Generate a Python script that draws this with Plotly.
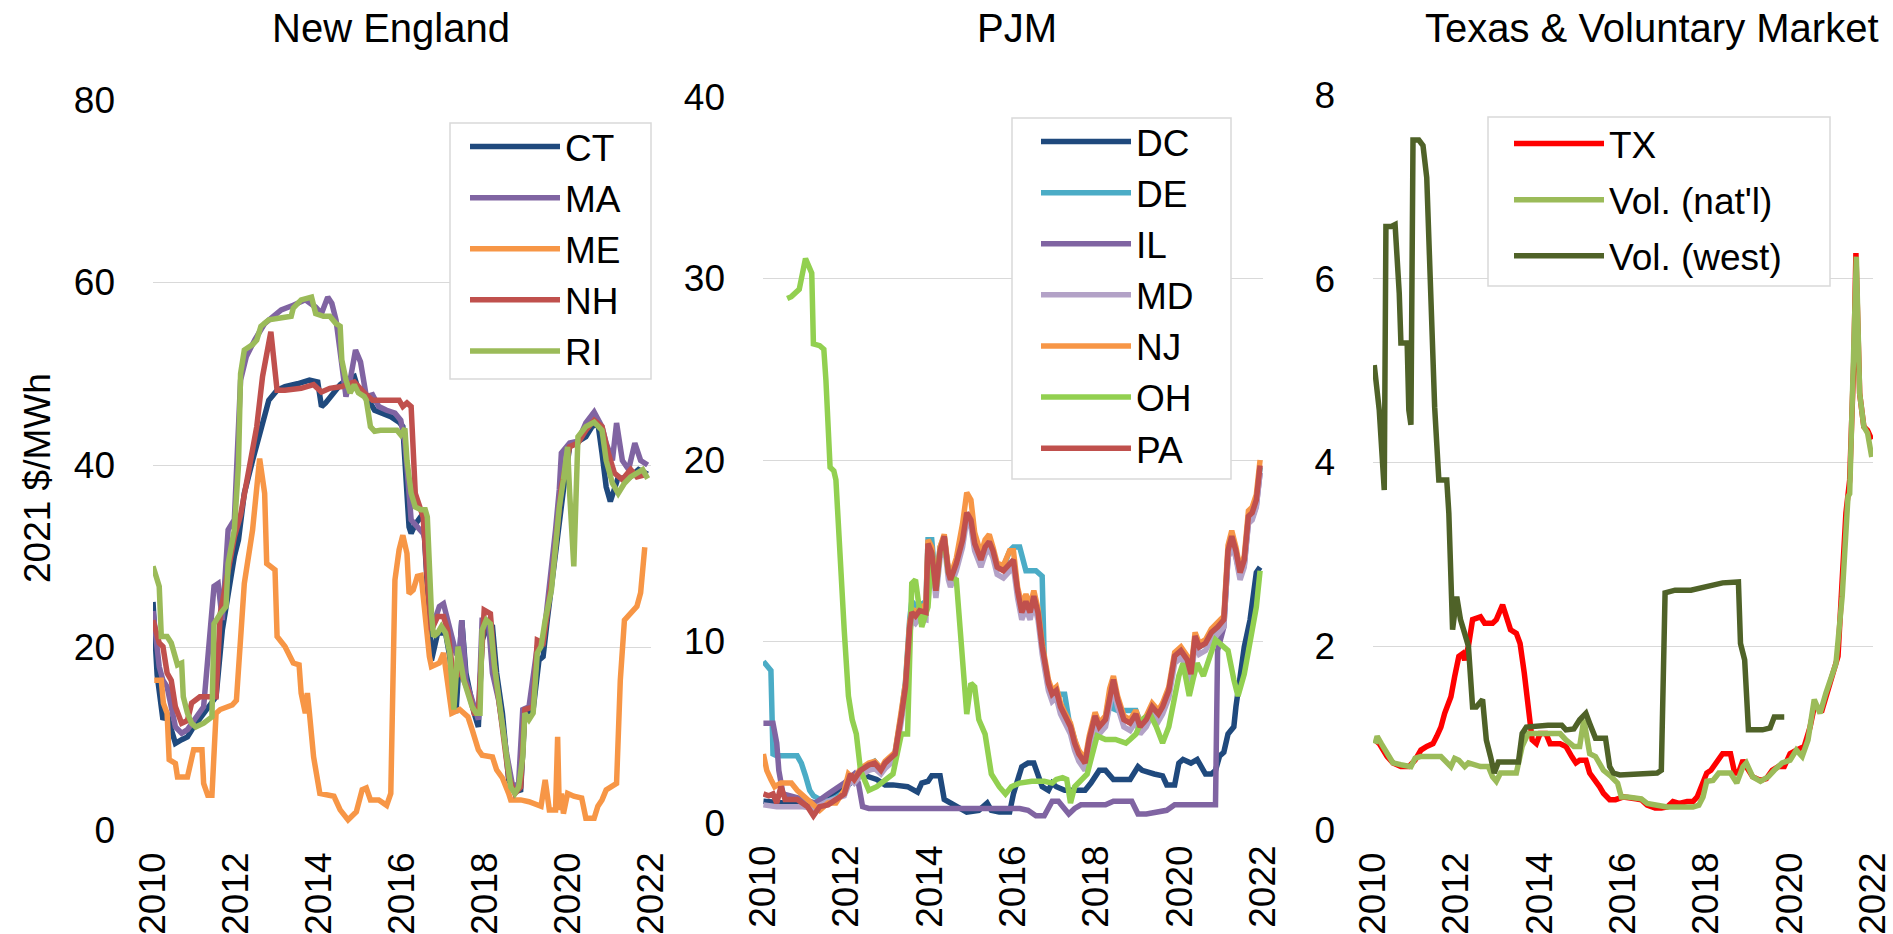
import plotly.graph_objects as go

# ---------------- data (decimal year, 2021 $/MWh) ----------------
YEAR_TICKS = [2010, 2012, 2014, 2016, 2018, 2020, 2022]
YEAR_LABELS = ["2010", "2012", "2014", "2016", "2018", "2020", "2022"]
PANEL_TITLES = ["New England", "PJM", "Texas & Voluntary Market"]
Y_TITLE = "2021 $/MWh"

NE_CT = [(2010.00, 25.0), (2010.10, 17.0), (2010.24, 12.1), (2010.34, 12.8), (2010.44, 11.0), (2010.54, 9.5),
         (2010.69, 9.9), (2010.83, 10.2), (2010.98, 11.3), (2011.22, 12.8), (2011.52, 14.6), (2011.67, 21.9),
         (2011.76, 24.5), (2011.96, 30.0), (2012.06, 31.8), (2012.20, 36.9), (2012.40, 40.5), (2012.60, 44.2),
         (2012.79, 47.1), (2012.99, 48.2), (2013.18, 48.6), (2013.48, 48.9), (2013.77, 49.3), (2013.97, 49.1),
         (2014.06, 46.4), (2014.16, 46.8), (2014.36, 47.9), (2014.51, 48.8), (2014.65, 49.3), (2014.85, 49.7),
         (2014.95, 48.2), (2015.14, 47.5), (2015.34, 46.0), (2015.53, 45.7), (2015.73, 45.3), (2015.93, 44.7),
         (2016.02, 44.2), (2016.07, 40.5), (2016.12, 37.3), (2016.17, 33.2), (2016.22, 32.5), (2016.32, 33.5),
         (2016.51, 34.7), (2016.61, 27.4), (2016.71, 18.6), (2016.86, 21.6), (2017.05, 21.6), (2017.15, 19.0),
         (2017.30, 12.8), (2017.44, 23.0), (2017.54, 17.2), (2017.74, 12.8), (2017.84, 11.3), (2017.93, 20.8),
         (2018.08, 22.6), (2018.18, 22.3), (2018.28, 17.2), (2018.42, 12.8), (2018.57, 5.5), (2018.72, 4.2),
         (2018.86, 4.4), (2018.96, 12.8), (2019.16, 13.2), (2019.30, 18.6), (2019.40, 19.0), (2019.50, 23.0),
         (2019.65, 28.5), (2019.79, 34.7), (2019.89, 37.3), (2020.04, 42.0), (2020.43, 43.1), (2020.58, 44.2),
         (2020.72, 44.6), (2020.82, 41.3), (2020.92, 37.6), (2021.02, 36.0), (2021.20, 38.5), (2021.50, 38.7),
         (2021.70, 39.5), (2021.92, 39.0)]

NE_MA = [(2010.00, 24.0), (2010.15, 17.9), (2010.24, 16.4), (2010.34, 15.7), (2010.54, 11.3), (2010.69, 10.6),
         (2010.83, 11.0), (2011.03, 12.4), (2011.22, 13.5), (2011.47, 26.7), (2011.57, 27.0), (2011.67, 23.0),
         (2011.81, 32.9), (2011.96, 34.0), (2012.11, 49.3), (2012.25, 51.9), (2012.45, 53.7), (2012.69, 55.5),
         (2012.89, 56.3), (2013.09, 57.0), (2013.38, 57.5), (2013.67, 58.1), (2013.92, 57.3), (2014.06, 56.6),
         (2014.21, 58.4), (2014.31, 57.7), (2014.41, 55.9), (2014.51, 52.2), (2014.65, 47.5), (2014.75, 49.3),
         (2014.88, 52.6), (2015.00, 51.3), (2015.14, 47.5), (2015.29, 47.7), (2015.44, 46.4), (2015.63, 46.0),
         (2015.83, 45.7), (2015.97, 44.9), (2016.07, 42.4), (2016.17, 36.9), (2016.22, 34.0), (2016.51, 32.5),
         (2016.61, 31.1), (2016.71, 21.9), (2016.90, 24.5), (2017.00, 24.8), (2017.15, 22.3), (2017.30, 19.4),
         (2017.39, 19.4), (2017.44, 23.0), (2017.54, 16.4), (2017.74, 13.5), (2017.84, 12.1), (2017.93, 23.0),
         (2018.08, 23.0), (2018.18, 17.2), (2018.33, 14.2), (2018.52, 8.4), (2018.67, 4.7), (2018.81, 5.1),
         (2018.91, 13.2), (2019.06, 13.5), (2019.26, 20.1), (2019.40, 20.5), (2019.55, 26.3), (2019.70, 32.9),
         (2019.79, 37.3), (2019.84, 41.3), (2020.04, 42.4), (2020.24, 42.6), (2020.43, 44.6), (2020.63, 45.8),
         (2020.82, 44.2), (2020.92, 42.4), (2021.07, 40.5), (2021.17, 44.6), (2021.31, 40.5), (2021.46, 39.5),
         (2021.61, 42.4), (2021.75, 40.5), (2021.92, 40.0)]

NE_ME = [(2010.03, 16.4), (2010.20, 16.4), (2010.25, 13.9), (2010.34, 12.8), (2010.39, 7.7), (2010.54, 7.3),
         (2010.59, 5.8), (2010.83, 5.8), (2010.98, 8.8), (2011.18, 8.8), (2011.22, 5.1), (2011.32, 3.8),
         (2011.42, 3.8), (2011.52, 12.8), (2011.62, 13.2), (2011.91, 13.7), (2012.01, 14.2), (2012.20, 27.0),
         (2012.40, 32.9), (2012.57, 40.7), (2012.69, 36.9), (2012.74, 29.2), (2012.94, 28.5), (2012.99, 21.2),
         (2013.18, 20.1), (2013.38, 18.3), (2013.52, 18.1), (2013.57, 15.0), (2013.67, 12.8), (2013.72, 15.0),
         (2013.77, 12.8), (2013.87, 8.0), (2014.02, 4.0), (2014.36, 3.7), (2014.51, 2.2), (2014.70, 1.1),
         (2014.90, 2.0), (2015.04, 4.4), (2015.14, 4.6), (2015.24, 3.3), (2015.44, 3.3), (2015.63, 2.7),
         (2015.73, 4.0), (2015.78, 16.4), (2015.83, 27.4), (2015.93, 30.7), (2016.02, 32.3), (2016.12, 30.3),
         (2016.17, 25.9), (2016.27, 26.3), (2016.37, 27.8), (2016.46, 27.9), (2016.51, 25.6), (2016.61, 20.1),
         (2016.66, 19.0), (2016.71, 17.9), (2016.90, 18.3), (2017.00, 19.4), (2017.20, 12.8), (2017.39, 13.2),
         (2017.59, 12.4), (2017.69, 11.0), (2017.84, 8.8), (2017.93, 8.2), (2018.18, 8.0), (2018.28, 6.6),
         (2018.42, 5.7), (2018.57, 4.0), (2018.62, 3.3), (2018.86, 3.3), (2019.06, 3.1), (2019.35, 2.6),
         (2019.45, 5.5), (2019.55, 2.2), (2019.70, 2.2), (2019.75, 10.2), (2019.79, 2.2), (2019.84, 4.0),
         (2019.89, 1.8), (2019.99, 4.0), (2020.14, 3.7), (2020.33, 3.5), (2020.43, 1.3), (2020.63, 1.3),
         (2020.72, 2.6), (2020.82, 3.3), (2020.92, 4.4), (2021.17, 5.1), (2021.26, 16.4), (2021.36, 23.0),
         (2021.51, 23.7), (2021.66, 24.5), (2021.75, 26.0), (2021.85, 31.0)]

NE_NH = [(2010.00, 23.0), (2010.15, 20.5), (2010.24, 20.1), (2010.34, 17.2), (2010.44, 16.4), (2010.54, 13.5),
         (2010.69, 11.7), (2010.83, 12.0), (2010.93, 13.9), (2011.13, 14.6), (2011.52, 14.6), (2011.62, 23.7),
         (2011.71, 25.9), (2011.81, 28.5), (2011.96, 32.1), (2012.11, 34.5), (2012.20, 36.9), (2012.35, 40.5),
         (2012.50, 44.2), (2012.64, 49.7), (2012.84, 54.6), (2012.99, 48.2), (2013.18, 48.2), (2013.57, 48.4),
         (2013.87, 48.8), (2014.06, 48.0), (2014.26, 48.4), (2014.55, 48.6), (2014.85, 49.1), (2015.09, 47.9),
         (2015.29, 47.1), (2015.93, 47.1), (2016.02, 46.4), (2016.12, 46.8), (2016.22, 46.4), (2016.32, 36.9),
         (2016.37, 36.2), (2016.51, 34.3), (2016.61, 27.4), (2016.71, 21.9), (2016.86, 23.4), (2017.00, 23.4),
         (2017.10, 21.9), (2017.25, 16.4), (2017.39, 17.5), (2017.59, 15.3), (2017.74, 12.8), (2017.84, 12.8),
         (2017.98, 24.1), (2018.13, 23.7), (2018.23, 17.9), (2018.37, 13.2), (2018.57, 5.8), (2018.72, 4.0),
         (2018.86, 4.7), (2018.96, 13.2), (2019.16, 13.5), (2019.26, 20.8), (2019.40, 20.5), (2019.50, 23.7),
         (2019.65, 28.9), (2019.84, 37.6), (2020.04, 42.0), (2020.24, 42.4), (2020.43, 43.8), (2020.63, 44.9),
         (2020.82, 44.2), (2020.97, 41.3), (2021.12, 39.1), (2021.31, 38.4), (2021.51, 39.5), (2021.66, 38.7),
         (2021.92, 39.0)]

NE_RI = [(2010.00, 28.9), (2010.05, 28.0), (2010.15, 26.7), (2010.20, 21.2), (2010.34, 21.2), (2010.44, 20.5),
         (2010.54, 18.6), (2010.59, 18.1), (2010.69, 18.3), (2010.73, 14.6), (2010.83, 12.8), (2010.93, 11.7),
         (2011.03, 11.3), (2011.22, 11.7), (2011.42, 12.4), (2011.47, 22.6), (2011.62, 23.7), (2011.76, 24.5),
         (2011.81, 29.2), (2011.96, 32.9), (2012.06, 40.0), (2012.11, 50.0), (2012.20, 52.6), (2012.40, 53.2),
         (2012.50, 53.7), (2012.60, 55.2), (2012.79, 55.9), (2013.09, 56.1), (2013.33, 56.3), (2013.38, 57.2),
         (2013.57, 58.1), (2013.82, 58.4), (2013.92, 56.6), (2014.11, 56.3), (2014.26, 56.3), (2014.41, 55.5),
         (2014.51, 55.2), (2014.55, 51.5), (2014.65, 49.3), (2014.75, 47.9), (2014.85, 48.8), (2014.95, 47.9),
         (2015.09, 47.5), (2015.14, 47.1), (2015.24, 44.2), (2015.34, 43.7), (2015.48, 43.8), (2015.88, 43.8),
         (2015.97, 43.3), (2016.07, 44.0), (2016.12, 40.5), (2016.22, 36.9), (2016.32, 35.4), (2016.46, 35.1),
         (2016.56, 35.1), (2016.61, 34.3), (2016.66, 27.4), (2016.71, 23.7), (2016.76, 21.2), (2016.86, 21.6),
         (2016.95, 22.3), (2017.05, 21.6), (2017.15, 19.4), (2017.25, 13.2), (2017.35, 20.1), (2017.49, 16.4),
         (2017.69, 13.5), (2017.79, 12.8), (2017.88, 12.8), (2017.93, 21.9), (2018.03, 23.0), (2018.13, 22.6),
         (2018.23, 17.9), (2018.37, 12.8), (2018.47, 9.9), (2018.57, 6.2), (2018.62, 4.7), (2018.72, 4.0),
         (2018.81, 4.7), (2018.91, 8.0), (2018.96, 12.8), (2019.06, 12.1), (2019.16, 12.8), (2019.26, 19.4),
         (2019.35, 20.1), (2019.45, 23.0), (2019.60, 26.3), (2019.70, 31.1), (2019.79, 35.4), (2019.89, 38.4),
         (2019.99, 42.0), (2020.04, 36.9), (2020.14, 28.9), (2020.24, 43.1), (2020.43, 44.2), (2020.63, 44.7),
         (2020.82, 43.8), (2020.92, 40.5), (2021.07, 38.0), (2021.21, 36.9), (2021.36, 38.0), (2021.51, 38.7),
         (2021.66, 39.1), (2021.80, 39.5), (2021.92, 38.5)]

PJM_DC = [(2010.01, 1.2), (2010.50, 1.1), (2011.00, 1.0), (2011.50, 1.2), (2012.00, 2.0), (2012.34, 2.7),
          (2012.73, 2.4), (2012.93, 2.1), (2013.12, 2.1), (2013.47, 2.0), (2013.57, 1.9), (2013.71, 1.7),
          (2013.81, 2.2), (2013.96, 2.3), (2014.05, 2.6), (2014.25, 2.6), (2014.35, 1.3), (2014.50, 1.1),
          (2014.79, 0.7), (2014.89, 0.6), (2015.18, 0.7), (2015.38, 1.1), (2015.48, 0.7), (2015.67, 0.6),
          (2015.92, 0.6), (2016.01, 1.6), (2016.21, 3.1), (2016.36, 3.3), (2016.50, 3.3), (2016.60, 2.6),
          (2016.70, 2.0), (2016.85, 1.8), (2016.94, 2.2), (2017.04, 2.0), (2017.24, 1.8), (2017.73, 1.8),
          (2017.87, 2.2), (2018.07, 2.9), (2018.22, 2.9), (2018.41, 2.4), (2018.81, 2.4), (2019.00, 3.1),
          (2019.10, 2.9), (2019.39, 2.7), (2019.59, 2.6), (2019.69, 2.1), (2019.88, 2.1), (2019.98, 3.3),
          (2020.08, 3.5), (2020.27, 3.3), (2020.42, 3.5), (2020.62, 2.7), (2020.76, 2.7), (2020.86, 2.9),
          (2020.96, 3.7), (2021.06, 3.9), (2021.16, 4.9), (2021.30, 5.3), (2021.35, 6.4), (2021.55, 9.7),
          (2021.69, 11.2), (2021.84, 13.8), (2021.93, 14.1)]

PJM_DE = [(2010.01, 8.9), (2010.14, 8.5), (2010.19, 8.4), (2010.24, 3.8), (2010.33, 3.7), (2010.82, 3.7),
          (2010.92, 3.3), (2011.02, 2.6), (2011.12, 1.8), (2011.21, 1.5), (2011.36, 1.3), (2011.56, 1.2),
          (2011.75, 1.4), (2011.95, 1.7), (2012.05, 2.3), (2012.19, 2.4), (2012.34, 2.9), (2012.54, 3.2),
          (2012.68, 3.4), (2012.83, 3.0), (2012.93, 3.3), (2013.17, 3.9), (2013.32, 6.0), (2013.42, 7.8),
          (2013.52, 11.2), (2013.57, 12.2), (2013.66, 12.0), (2013.76, 12.0), (2013.91, 12.2), (2013.96, 15.6),
          (2014.05, 15.6), (2014.15, 13.0), (2014.25, 15.2), (2014.35, 15.8), (2014.45, 13.8), (2014.50, 13.4),
          (2014.64, 14.3), (2014.79, 15.6), (2014.89, 17.0), (2014.99, 16.6), (2015.08, 15.4), (2015.23, 14.5),
          (2015.33, 15.2), (2015.43, 15.5), (2015.52, 15.0), (2015.62, 14.2), (2015.77, 14.1), (2015.92, 15.0),
          (2016.01, 15.2), (2016.16, 15.2), (2016.31, 13.9), (2016.55, 13.9), (2016.70, 13.6), (2016.75, 9.0),
          (2016.85, 7.5), (2016.94, 7.2), (2017.04, 7.1), (2017.24, 7.1), (2017.34, 5.7), (2017.48, 4.6),
          (2017.58, 3.8), (2017.73, 3.3), (2017.83, 4.6), (2017.97, 5.9), (2018.07, 5.5), (2018.22, 5.8),
          (2018.32, 7.1), (2018.41, 6.3), (2018.51, 6.2), (2018.81, 6.2), (2018.95, 6.2), (2019.05, 5.6),
          (2019.20, 5.8), (2019.34, 6.4), (2019.49, 6.0), (2019.59, 6.4), (2019.74, 7.3), (2019.88, 9.2),
          (2020.03, 9.5), (2020.18, 9.0), (2020.27, 8.3), (2020.37, 10.2), (2020.47, 9.7), (2020.62, 9.9),
          (2020.76, 10.4), (2020.91, 10.7), (2021.06, 11.1), (2021.16, 14.8), (2021.25, 15.6), (2021.35, 14.9),
          (2021.45, 13.8), (2021.55, 14.4), (2021.65, 16.8), (2021.74, 17.0), (2021.84, 17.7), (2021.93, 19.6)]

PJM_IL = [(2010.01, 5.5), (2010.24, 5.5), (2010.33, 4.4), (2010.38, 2.9), (2010.48, 1.6), (2010.68, 1.5),
          (2010.97, 1.3), (2011.26, 1.1), (2011.36, 1.3), (2011.56, 1.6), (2011.95, 2.2), (2012.19, 2.7),
          (2012.29, 2.2), (2012.39, 0.9), (2012.54, 0.8), (2016.16, 0.8), (2016.36, 0.7), (2016.55, 0.4),
          (2016.75, 0.4), (2016.85, 0.8), (2016.94, 1.2), (2017.09, 1.2), (2017.24, 0.8), (2017.34, 0.5),
          (2017.48, 0.8), (2017.63, 1.0), (2018.22, 1.0), (2018.41, 1.2), (2018.85, 1.2), (2019.00, 0.5),
          (2019.20, 0.5), (2019.39, 0.6), (2019.69, 0.7), (2019.88, 1.0), (2020.86, 1.0), (2020.91, 9.5),
          (2021.06, 10.8), (2021.16, 14.6), (2021.25, 15.4), (2021.35, 14.7), (2021.45, 13.6), (2021.55, 14.2),
          (2021.65, 16.6), (2021.74, 16.8), (2021.84, 17.5), (2021.93, 19.3)]

PJM_MD = [(2010.01, 1.0), (2010.33, 0.9), (2010.97, 0.9), (2011.21, 0.8), (2011.56, 1.2), (2011.95, 1.5),
          (2012.10, 2.4), (2012.19, 2.2), (2012.34, 2.6), (2012.54, 2.9), (2012.68, 3.0), (2012.83, 2.7),
          (2012.93, 3.0), (2013.17, 3.5), (2013.32, 5.6), (2013.42, 7.2), (2013.52, 10.4), (2013.57, 11.2),
          (2013.66, 11.0), (2013.76, 11.3), (2013.91, 11.2), (2013.96, 15.0), (2014.05, 14.5), (2014.15, 12.4),
          (2014.25, 14.6), (2014.35, 15.4), (2014.45, 13.4), (2014.50, 13.0), (2014.64, 13.9), (2014.79, 15.2),
          (2014.89, 16.7), (2014.99, 16.3), (2015.08, 15.0), (2015.23, 14.1), (2015.33, 14.8), (2015.43, 15.1),
          (2015.52, 14.6), (2015.62, 13.7), (2015.77, 13.5), (2015.92, 13.9), (2016.01, 14.1), (2016.11, 12.4),
          (2016.21, 11.2), (2016.31, 11.8), (2016.41, 11.2), (2016.50, 12.1), (2016.60, 11.2), (2016.70, 9.3),
          (2016.85, 7.3), (2016.94, 6.7), (2017.04, 6.9), (2017.14, 6.0), (2017.24, 5.5), (2017.38, 4.9),
          (2017.48, 4.0), (2017.58, 3.4), (2017.73, 2.9), (2017.83, 4.2), (2017.97, 5.5), (2018.07, 4.9),
          (2018.22, 5.3), (2018.32, 6.7), (2018.41, 7.5), (2018.51, 6.4), (2018.66, 5.3), (2018.81, 5.1),
          (2018.95, 5.6), (2019.05, 4.9), (2019.20, 5.3), (2019.34, 6.0), (2019.49, 5.6), (2019.59, 6.0),
          (2019.74, 6.9), (2019.88, 8.8), (2020.03, 9.1), (2020.18, 8.6), (2020.27, 7.8), (2020.37, 9.9),
          (2020.47, 9.3), (2020.62, 9.5), (2020.76, 10.1), (2020.91, 10.4), (2021.06, 10.8), (2021.16, 14.6),
          (2021.25, 15.4), (2021.35, 14.6), (2021.45, 13.4), (2021.55, 14.1), (2021.65, 16.5), (2021.74, 16.7),
          (2021.84, 17.4), (2021.93, 19.3)]

PJM_NJ = [(2010.01, 3.8), (2010.09, 2.9), (2010.19, 2.4), (2010.28, 2.0), (2010.43, 2.2), (2010.68, 2.2),
          (2010.82, 1.8), (2010.97, 1.5), (2011.17, 1.1), (2011.36, 0.7), (2011.56, 1.1), (2011.75, 1.1),
          (2011.95, 1.8), (2012.05, 2.7), (2012.19, 2.4), (2012.34, 3.0), (2012.54, 3.3), (2012.68, 3.4),
          (2012.83, 3.0), (2012.93, 3.4), (2013.17, 3.9), (2013.32, 6.1), (2013.42, 7.7), (2013.52, 11.0),
          (2013.57, 11.8), (2013.66, 11.6), (2013.76, 11.9), (2013.91, 12.0), (2013.96, 15.6), (2014.05, 15.2),
          (2014.15, 13.0), (2014.25, 15.2), (2014.35, 15.9), (2014.45, 14.0), (2014.50, 13.6), (2014.64, 14.6),
          (2014.79, 16.5), (2014.89, 18.2), (2014.99, 17.8), (2015.08, 16.0), (2015.23, 14.8), (2015.33, 15.6),
          (2015.43, 15.9), (2015.52, 15.2), (2015.62, 14.3), (2015.77, 14.2), (2015.92, 15.0), (2016.01, 15.0),
          (2016.11, 13.0), (2016.21, 12.0), (2016.31, 12.6), (2016.41, 12.0), (2016.50, 12.8), (2016.60, 11.8),
          (2016.70, 9.9), (2016.85, 7.9), (2016.94, 7.3), (2017.04, 7.5), (2017.14, 6.6), (2017.24, 6.1),
          (2017.38, 5.5), (2017.48, 4.6), (2017.58, 4.0), (2017.73, 3.5), (2017.83, 4.8), (2017.97, 6.1),
          (2018.07, 5.5), (2018.22, 5.9), (2018.32, 7.4), (2018.41, 8.1), (2018.51, 7.0), (2018.66, 5.9),
          (2018.81, 5.7), (2018.95, 6.2), (2019.05, 5.5), (2019.20, 5.9), (2019.34, 6.6), (2019.49, 6.2),
          (2019.59, 6.6), (2019.74, 7.5), (2019.88, 9.4), (2020.03, 9.7), (2020.18, 9.2), (2020.27, 8.4),
          (2020.37, 10.5), (2020.47, 9.9), (2020.62, 10.1), (2020.76, 10.7), (2020.91, 11.0), (2021.06, 11.4),
          (2021.16, 15.3), (2021.25, 16.1), (2021.35, 15.2), (2021.45, 14.0), (2021.55, 14.7), (2021.65, 17.2),
          (2021.74, 17.4), (2021.84, 18.1), (2021.93, 20.0)]

PJM_OH = [(2010.58, 28.9), (2010.68, 29.0), (2010.87, 29.4), (2010.97, 30.7), (2011.02, 31.1), (2011.17, 30.3),
          (2011.21, 26.4), (2011.36, 26.3), (2011.46, 26.1), (2011.51, 24.4), (2011.61, 19.6), (2011.70, 19.4),
          (2011.75, 18.9), (2011.95, 10.6), (2012.05, 7.0), (2012.14, 5.7), (2012.24, 4.9), (2012.34, 2.9),
          (2012.54, 1.8), (2012.73, 2.0), (2012.93, 2.4), (2013.12, 2.7), (2013.32, 4.9), (2013.47, 4.9),
          (2013.57, 13.2), (2013.66, 13.4), (2013.81, 10.8), (2013.96, 11.9), (2014.05, 14.9), (2014.15, 12.8),
          (2014.25, 15.0), (2014.35, 15.5), (2014.45, 13.8), (2014.54, 13.5), (2014.64, 13.4), (2014.79, 8.8),
          (2014.89, 6.0), (2014.99, 7.7), (2015.08, 7.5), (2015.18, 5.7), (2015.33, 4.9), (2015.48, 2.7),
          (2015.67, 2.0), (2015.82, 1.6), (2015.96, 2.0), (2016.16, 2.2), (2016.45, 2.3), (2016.75, 2.3),
          (2016.94, 2.2), (2017.04, 2.4), (2017.19, 2.5), (2017.29, 2.4), (2017.38, 1.1), (2017.48, 2.0),
          (2017.63, 2.4), (2017.78, 2.7), (2018.02, 4.8), (2018.22, 4.6), (2018.46, 4.6), (2018.71, 4.4),
          (2018.81, 4.6), (2018.95, 4.9), (2019.10, 5.7), (2019.29, 6.0), (2019.44, 5.3), (2019.59, 4.4),
          (2019.74, 5.3), (2019.84, 6.4), (2019.98, 8.1), (2020.08, 8.8), (2020.23, 7.0), (2020.32, 7.9),
          (2020.42, 8.8), (2020.57, 8.1), (2020.71, 9.0), (2020.86, 10.1), (2020.96, 9.9), (2021.16, 9.5),
          (2021.30, 7.9), (2021.40, 7.0), (2021.55, 8.2), (2021.69, 10.1), (2021.84, 11.9), (2021.93, 13.9)]

PJM_PA = [(2010.01, 1.6), (2010.14, 1.5), (2010.24, 1.6), (2010.33, 1.1), (2010.43, 2.0), (2010.53, 1.3),
          (2010.82, 1.3), (2010.97, 1.1), (2011.07, 0.9), (2011.21, 0.4), (2011.36, 0.9), (2011.56, 1.0),
          (2011.75, 1.3), (2011.95, 1.6), (2012.10, 2.7), (2012.19, 2.4), (2012.34, 2.9), (2012.54, 3.2),
          (2012.68, 3.3), (2012.83, 2.9), (2012.93, 3.3), (2013.17, 3.8), (2013.32, 5.9), (2013.42, 7.5),
          (2013.52, 10.8), (2013.57, 11.6), (2013.66, 11.4), (2013.76, 11.7), (2013.91, 11.6), (2013.96, 15.4),
          (2014.05, 14.9), (2014.15, 12.8), (2014.25, 15.0), (2014.35, 15.8), (2014.45, 13.8), (2014.50, 13.4),
          (2014.64, 14.3), (2014.79, 15.6), (2014.89, 17.1), (2014.99, 16.7), (2015.08, 15.4), (2015.23, 14.5),
          (2015.33, 15.2), (2015.43, 15.5), (2015.52, 15.0), (2015.62, 14.1), (2015.77, 13.9), (2015.92, 14.3),
          (2016.01, 14.5), (2016.11, 12.8), (2016.21, 11.6), (2016.31, 12.2), (2016.41, 11.6), (2016.50, 12.5),
          (2016.60, 11.6), (2016.70, 9.7), (2016.85, 7.7), (2016.94, 7.1), (2017.04, 7.3), (2017.14, 6.4),
          (2017.24, 5.9), (2017.38, 5.3), (2017.48, 4.4), (2017.58, 3.8), (2017.73, 3.3), (2017.83, 4.6),
          (2017.97, 5.9), (2018.07, 5.3), (2018.22, 5.7), (2018.32, 7.1), (2018.41, 7.9), (2018.51, 6.8),
          (2018.66, 5.7), (2018.81, 5.5), (2018.95, 6.0), (2019.05, 5.3), (2019.20, 5.7), (2019.34, 6.4),
          (2019.49, 6.0), (2019.59, 6.4), (2019.74, 7.3), (2019.88, 9.2), (2020.03, 9.5), (2020.18, 9.0),
          (2020.27, 8.2), (2020.37, 10.3), (2020.47, 9.7), (2020.62, 9.9), (2020.76, 10.5), (2020.91, 10.8),
          (2021.06, 11.2), (2021.16, 15.0), (2021.25, 15.8), (2021.35, 15.0), (2021.45, 13.8), (2021.55, 14.5),
          (2021.65, 16.9), (2021.74, 17.1), (2021.84, 17.8), (2021.93, 19.7)]

TX_TX = [(2010.05, 0.98), (2010.15, 0.94), (2010.34, 0.80), (2010.48, 0.73), (2010.67, 0.69), (2010.86, 0.69),
         (2011.01, 0.76), (2011.15, 0.87), (2011.29, 0.91), (2011.44, 0.94), (2011.53, 1.02), (2011.63, 1.12),
         (2011.72, 1.27), (2011.87, 1.45), (2011.96, 1.67), (2012.06, 1.89), (2012.15, 1.92), (2012.20, 1.85),
         (2012.29, 2.00), (2012.39, 2.29), (2012.58, 2.32), (2012.68, 2.25), (2012.87, 2.25), (2012.96, 2.29),
         (2013.11, 2.45), (2013.20, 2.32), (2013.30, 2.18), (2013.44, 2.14), (2013.53, 2.03), (2013.63, 1.71),
         (2013.72, 1.34), (2013.82, 0.98), (2013.92, 0.94), (2014.01, 1.05), (2014.15, 1.05), (2014.25, 0.94),
         (2014.49, 0.94), (2014.63, 0.91), (2014.77, 0.80), (2014.87, 0.73), (2014.96, 0.76), (2015.11, 0.76),
         (2015.20, 0.62), (2015.34, 0.54), (2015.44, 0.47), (2015.53, 0.40), (2015.68, 0.33), (2015.82, 0.33),
         (2016.01, 0.36), (2016.30, 0.34), (2016.44, 0.33), (2016.58, 0.27), (2016.77, 0.24), (2016.92, 0.24),
         (2017.06, 0.25), (2017.20, 0.31), (2017.35, 0.29), (2017.54, 0.31), (2017.68, 0.31), (2017.78, 0.36),
         (2017.92, 0.54), (2018.01, 0.62), (2018.11, 0.65), (2018.25, 0.73), (2018.39, 0.83), (2018.58, 0.83),
         (2018.68, 0.62), (2018.77, 0.62), (2018.88, 0.76), (2018.96, 0.69), (2019.11, 0.58), (2019.30, 0.54),
         (2019.44, 0.56), (2019.58, 0.65), (2019.73, 0.69), (2019.87, 0.69), (2020.01, 0.83), (2020.16, 0.87),
         (2020.35, 0.91), (2020.49, 1.12), (2020.59, 1.34), (2020.78, 1.31), (2020.87, 1.45), (2020.97, 1.60),
         (2021.06, 1.74), (2021.16, 1.89), (2021.26, 2.72), (2021.35, 3.45), (2021.44, 3.81), (2021.54, 5.12),
         (2021.59, 6.28), (2021.68, 4.75), (2021.78, 4.39), (2021.87, 4.35), (2021.97, 4.25)]

TX_VOL_NATL = [(2010.05, 0.94), (2010.10, 1.02), (2010.20, 0.94), (2010.29, 0.87), (2010.39, 0.80), (2010.48, 0.73),
               (2010.67, 0.71), (2010.91, 0.69), (2011.01, 0.78), (2011.15, 0.80), (2011.63, 0.80), (2011.72, 0.76),
               (2011.87, 0.69), (2011.96, 0.78), (2012.06, 0.76), (2012.20, 0.69), (2012.29, 0.73), (2012.58, 0.69),
               (2012.77, 0.69), (2012.87, 0.58), (2012.96, 0.53), (2013.06, 0.62), (2013.44, 0.62), (2013.58, 0.91),
               (2013.72, 1.05), (2014.49, 1.05), (2014.63, 0.98), (2014.82, 0.91), (2014.96, 0.91), (2015.06, 1.20),
               (2015.20, 0.83), (2015.34, 0.80), (2015.53, 0.65), (2015.72, 0.58), (2015.87, 0.51), (2015.96, 0.36),
               (2016.11, 0.36), (2016.44, 0.34), (2016.58, 0.29), (2016.82, 0.27), (2017.06, 0.25), (2017.44, 0.25),
               (2017.68, 0.25), (2017.82, 0.27), (2017.92, 0.36), (2018.01, 0.53), (2018.16, 0.54), (2018.30, 0.62),
               (2018.58, 0.62), (2018.73, 0.51), (2018.88, 0.69), (2018.96, 0.73), (2019.11, 0.58), (2019.30, 0.53),
               (2019.49, 0.58), (2019.63, 0.65), (2019.82, 0.73), (2020.01, 0.76), (2020.16, 0.87), (2020.30, 0.80),
               (2020.44, 0.98), (2020.59, 1.42), (2020.73, 1.27), (2020.87, 1.49), (2020.97, 1.63), (2021.11, 1.81),
               (2021.26, 2.54), (2021.40, 3.63), (2021.44, 3.66), (2021.52, 4.75), (2021.60, 6.24), (2021.68, 4.75),
               (2021.78, 4.39), (2021.87, 4.32), (2021.97, 4.06)]

TX_VOL_WEST = [(2010.03, 5.06), (2010.08, 4.90), (2010.15, 4.57), (2010.27, 3.70), (2010.31, 6.57), (2010.44, 6.57),
               (2010.53, 6.59), (2010.63, 5.84), (2010.67, 5.30), (2010.82, 5.30), (2010.86, 4.57), (2010.91, 4.41),
               (2010.96, 7.51), (2011.10, 7.51), (2011.20, 7.45), (2011.29, 7.10), (2011.39, 5.80), (2011.48, 4.60),
               (2011.58, 3.81), (2011.77, 3.81), (2011.82, 3.45), (2011.87, 2.72), (2011.91, 2.18), (2012.01, 2.54),
               (2012.10, 2.29), (2012.20, 2.14), (2012.29, 2.00), (2012.39, 1.34), (2012.48, 1.34), (2012.63, 1.42),
               (2012.72, 0.98), (2012.82, 0.80), (2012.91, 0.62), (2013.01, 0.74), (2013.49, 0.74), (2013.58, 1.05),
               (2013.68, 1.12), (2014.20, 1.14), (2014.53, 1.14), (2014.63, 1.09), (2014.82, 1.10), (2014.96, 1.20),
               (2015.11, 1.27), (2015.20, 1.16), (2015.34, 1.00), (2015.58, 1.00), (2015.68, 0.69), (2015.77, 0.62),
               (2015.92, 0.60), (2016.82, 0.62), (2016.92, 0.65), (2017.01, 2.58), (2017.25, 2.61), (2017.63, 2.61),
               (2018.01, 2.65), (2018.39, 2.69), (2018.77, 2.70), (2018.82, 2.03), (2018.92, 1.85), (2019.01, 1.09),
               (2019.35, 1.09), (2019.53, 1.11), (2019.63, 1.23), (2019.87, 1.23)]

NE_NAMES = ["CT", "MA", "ME", "NH", "RI"]
NE_DATA = [NE_CT, NE_MA, NE_ME, NE_NH, NE_RI]
PJM_NAMES = ["DC", "DE", "IL", "MD", "NJ", "OH", "PA"]
PJM_DATA = [PJM_DC, PJM_DE, PJM_IL, PJM_MD, PJM_NJ, PJM_OH, PJM_PA]
TX_NAMES = ["TX", "Vol. (nat'l)", "Vol. (west)"]
TX_DATA = [TX_TX, TX_VOL_NATL, TX_VOL_WEST]

# ---------------- styling ----------------
NE_COLORS = ["#1F497D", "#8064A2", "#F79646", "#C0504D", "#9BBB59"]
PJM_COLORS = ["#1F497D", "#4BACC6", "#8064A2", "#B3A2C7", "#F79646", "#92D050", "#C0504D"]
TX_COLORS = ["#FF0000", "#9BBB59", "#4F6228"]

W, H = 1893, 934
FONT = "Liberation Sans, Arial, sans-serif"
LINE_W = 5.5


def px_x(p):
    return p / W


def px_y(p):
    return 1 - p / H


fig = go.Figure()

panels = [
    (NE_NAMES, NE_DATA, NE_COLORS, "x", "y", "legend"),
    (PJM_NAMES, PJM_DATA, PJM_COLORS, "x2", "y2", "legend2"),
    (TX_NAMES, TX_DATA, TX_COLORS, "x3", "y3", "legend3"),
]
for names, datas, colors, xa, ya, lg in panels:
    for name, pts, col in zip(names, datas, colors):
        fig.add_trace(go.Scatter(
            x=[p[0] for p in pts], y=[p[1] for p in pts], name=name, mode="lines",
            line=dict(color=col, width=LINE_W), xaxis=xa, yaxis=ya, legend=lg,
            legendgroup=lg + name,
        ))

grid = "#D9D9D9"
tickfont = dict(family=FONT, size=37, color="black")


def xaxis(dom, anchor):
    return dict(domain=dom, range=[2010, 2022], tickvals=YEAR_TICKS, ticktext=YEAR_LABELS,
                tickangle=-90, showgrid=False, zeroline=False, showline=False, ticks="",
                tickfont=tickfont, ticklabelstandoff=14, anchor=anchor, fixedrange=True,
                automargin=False, ticklabeloverflow="allow")


def yaxis(dom, rng, dt, anchor):
    return dict(domain=dom, range=rng, dtick=dt, tick0=0, showgrid=True, gridcolor=grid, gridwidth=1.3,
                zeroline=False, showline=False, ticks="", tickfont=tickfont, ticklabelstandoff=37,
                anchor=anchor, fixedrange=True, automargin=False, ticklabeloverflow="allow")


legend_common = dict(font=dict(family=FONT, size=37, color="black"), bgcolor="rgba(0,0,0,0)",
                     borderwidth=0, xanchor="left", yanchor="top",
                     itemwidth=90, tracegroupgap=0, orientation="v")

# legend frames (px): left, top, right, bottom
LEGEND_BOXES = [(450, 123, 651, 379), (1012, 118, 1231, 479), (1488, 117, 1830, 286)]

fig.update_layout(
    width=W, height=H, margin=dict(l=0, r=0, t=0, b=0, autoexpand=False),
    paper_bgcolor="white", plot_bgcolor="white",
    font=dict(family=FONT, size=37, color="black"),
    showlegend=True,
    xaxis=xaxis([px_x(153), px_x(651)], "y"),
    yaxis=yaxis([px_y(830), px_y(100)], [0, 80], 20, "x"),
    xaxis2=xaxis([px_x(763), px_x(1263)], "y2"),
    yaxis2=yaxis([px_y(823), px_y(97)], [0, 40], 10, "x2"),
    xaxis3=xaxis([px_x(1373), px_x(1873)], "y3"),
    yaxis3=yaxis([px_y(830), px_y(95)], [0, 8], 2, "x3"),
    legend=dict(legend_common, x=px_x(465), y=px_y(116)),
    legend2=dict(legend_common, x=px_x(1036), y=px_y(111)),
    legend3=dict(legend_common, x=px_x(1509), y=px_y(113), tracegroupgap=5),
)

for (l, t, r, b) in LEGEND_BOXES:
    fig.add_shape(type="rect", xref="paper", yref="paper", x0=px_x(l), x1=px_x(r), y0=px_y(b), y1=px_y(t),
                  line=dict(color="#D9D9D9", width=1.5), fillcolor="white", layer="above")

title_pos = [(391, 28), (1017, 28), (1652, 28)]
for text, (tx, ty) in zip(PANEL_TITLES, title_pos):
    fig.add_annotation(text=text, x=px_x(tx), y=px_y(ty), xref="paper", yref="paper",
                       xanchor="center", yanchor="middle", showarrow=False,
                       font=dict(family=FONT, size=40, color="black"))

# shared y-axis title of the left panel
fig.add_annotation(text=Y_TITLE, x=px_x(37), y=px_y(478), xref="paper", yref="paper",
                   xanchor="center", yanchor="middle", showarrow=False, textangle=-90,
                   font=dict(family=FONT, size=37, color="black"))

fig.write_html("out.html", config={"displayModeBar": False},
               post_script="document.body.style.margin='0px';document.body.style.padding='0px';")
